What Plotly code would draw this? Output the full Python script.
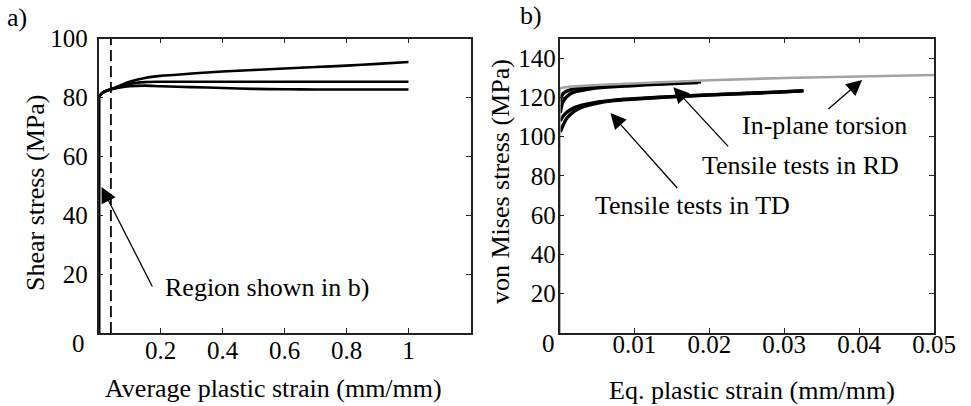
import plotly.graph_objects as go

# ---------------- Panel a data ----------------
a_elastic_x = [0, 0]
a_elastic_y = [0, 80]
a_strain = [0, 0.005, 0.01, 0.02, 0.04, 0.06, 0.1, 0.15, 0.2, 0.3, 0.4, 0.5, 0.6, 0.7, 0.8, 0.9, 1.0]
a_upper  = [80, 80.7, 81.3, 82.0, 82.8, 83.6, 85.3, 86.6, 87.3, 88.1, 88.8, 89.3, 89.8, 90.3, 90.8, 91.4, 92.0]
a_middle = [80, 80.7, 81.3, 82.0, 82.8, 83.4, 84.6, 85.2, 85.3, 85.3, 85.3, 85.3, 85.3, 85.3, 85.3, 85.3, 85.3]
a_lower  = [80, 80.7, 81.3, 82.0, 82.7, 83.2, 83.8, 84.0, 83.8, 83.5, 83.2, 82.9, 82.75, 82.7, 82.7, 82.7, 82.7]
a_region_x = [0.04, 0.04]
a_region_y = [0, 100]

# ---------------- Panel b data ----------------
tor_strain = [0, 0, 0.0005, 0.002, 0.005, 0.01, 0.02, 0.03, 0.04, 0.05]
tor_stress = [0, 124.5, 125.0, 125.6, 126.3, 127.2, 128.7, 129.9, 130.7, 131.4]

rd1_strain = [0.0001, 0.0005, 0.0015, 0.004, 0.008, 0.013, 0.0189]
rd1_stress = [118.0, 122.0, 124.0, 125.2, 126.1, 127.0, 128.0]
rd2_strain = [0.0001, 0.0005, 0.0015, 0.004, 0.008, 0.013, 0.0185]
rd2_stress = [112.0, 118.0, 122.0, 124.3, 125.6, 126.7, 127.6]

td1_strain = [0.0001, 0.0005, 0.001, 0.002, 0.003, 0.005, 0.007, 0.01, 0.015, 0.02, 0.025, 0.03, 0.0326]
td1_stress = [108.0, 110.5, 112.5, 114.8, 116.0, 117.6, 118.5, 119.3, 120.4, 121.3, 122.1, 122.9, 123.4]
td2_strain = [0.0001, 0.0005, 0.001, 0.002, 0.003, 0.005, 0.007, 0.01, 0.015, 0.02, 0.025, 0.03, 0.0324]
td2_stress = [102.5, 106.0, 109.5, 113.0, 115.0, 117.0, 118.2, 119.1, 120.3, 121.2, 122.0, 122.8, 123.3]

a_xticks = [0.2, 0.4, 0.6, 0.8, 1.0]
a_xticklabels = ["0.2", "0.4", "0.6", "0.8", "1"]
a_yticks = [20, 40, 60, 80, 100]
b_xticks = [0.01, 0.02, 0.03, 0.04, 0.05]
b_xticklabels = ["0.01", "0.02", "0.03", "0.04", "0.05"]
b_yticks = [20, 40, 60, 80, 100, 120, 140]

FONT = "'Liberation Serif', 'Times New Roman', Times, 'DejaVu Serif', serif"
W, H = 971, 406
BLACK = "#000000"
GRAY = "#a3a3a3"

fig = go.Figure()

# panel a
fig.add_trace(go.Scatter(x=a_elastic_x, y=a_elastic_y, mode="lines", xaxis="x", yaxis="y",
                         line=dict(color=BLACK, width=4), showlegend=False, hoverinfo="skip"))
for ys in (a_upper, a_middle, a_lower):
    fig.add_trace(go.Scatter(x=a_strain, y=ys, mode="lines", xaxis="x", yaxis="y",
                             line=dict(color=BLACK, width=2.6, shape="spline", smoothing=0.8),
                             showlegend=False, hoverinfo="skip"))
fig.add_trace(go.Scatter(x=a_region_x, y=a_region_y, mode="lines", xaxis="x", yaxis="y",
                         line=dict(color=BLACK, width=1.8, dash="11px,5px"), showlegend=False, hoverinfo="skip"))

# panel b
for xs, ys in ((rd1_strain, rd1_stress), (rd2_strain, rd2_stress),
               (td1_strain, td1_stress), (td2_strain, td2_stress)):
    fig.add_trace(go.Scatter(x=xs, y=ys, mode="lines", xaxis="x2", yaxis="y2",
                             line=dict(color=BLACK, width=3.4, shape="spline"), showlegend=False, hoverinfo="skip"))
fig.add_trace(go.Scatter(x=tor_strain, y=tor_stress, mode="lines", xaxis="x2", yaxis="y2",
                         line=dict(color=GRAY, width=2.6), showlegend=False, hoverinfo="skip"))

def px(x):
    return x / W

def py(y):
    return 1 - y / H

ydom = [py(333), py(38.5)]
axis_common = dict(showline=True, mirror="allticks", linecolor="#222222", linewidth=1.6,
                   ticks="inside", ticklen=5, tickwidth=1.2, tickcolor="#222222",
                   showgrid=False, zeroline=False, automargin=False,
                   tickfont=dict(family=FONT, size=25, color=BLACK))

fig.update_layout(
    template="none",
    width=W, height=H, autosize=False,
    margin=dict(l=0, r=0, t=0, b=0, pad=0, autoexpand=False),
    paper_bgcolor="white", plot_bgcolor="white",
    font=dict(family=FONT, size=26, color=BLACK),
    xaxis=dict(domain=[px(98.5), px(470.5)], range=[0, 1.2], anchor="y",
               tickvals=a_xticks, ticktext=a_xticklabels, ticklabelstandoff=-6, **axis_common),
    yaxis=dict(domain=ydom, range=[0, 100], anchor="x",
               tickvals=a_yticks, ticklabelstandoff=4, **axis_common),
    xaxis2=dict(domain=[px(559.5), px(934)], range=[0, 0.05], anchor="y2",
                tickvals=b_xticks, ticktext=b_xticklabels, ticklabelstandoff=-12, **axis_common),
    yaxis2=dict(domain=ydom, range=[0, 150], anchor="x2",
                tickvals=b_yticks, ticklabelstandoff=-3, **axis_common),
)

C = dict(xanchor="center", yanchor="middle", showarrow=False)
TF = dict(family=FONT, size=26, color=BLACK)
ann = []
# panel labels
ann.append(dict(text="a)", x=px(17), y=py(17), xref="paper", yref="paper", font=TF, **C))
ann.append(dict(text="b)", x=px(531), y=py(15), xref="paper", yref="paper", font=TF, **C))
# zero labels offset below the corner
ann.append(dict(text="0", x=px(78), y=py(343), xref="paper", yref="paper",
                font=dict(family=FONT, size=25, color=BLACK), **C))
ann.append(dict(text="0", x=px(548), y=py(343), xref="paper", yref="paper",
                font=dict(family=FONT, size=25, color=BLACK), **C))
# axis titles
ann.append(dict(text="Average plastic strain (mm/mm)", x=px(273), y=py(388), xref="paper", yref="paper",
                font=TF, **C))
ann.append(dict(text="Shear stress (MPa)", x=px(36), y=py(193), xref="paper", yref="paper",
                textangle=-90, font=TF, **C))
ann.append(dict(text="Eq. plastic strain (mm/mm)", x=px(752), y=py(390), xref="paper", yref="paper",
                font=TF, **C))
ann.append(dict(text="von Mises stress (MPa)", x=px(500), y=py(182), xref="paper", yref="paper",
                textangle=-90, font=TF, **C))

arrow_style = dict(showarrow=True, arrowhead=2, arrowsize=2.4, arrowwidth=1.3, arrowcolor=BLACK, standoff=0)
# panel a arrow + text
ann.append(dict(text="", x=0.0097, y=49.6, xref="x", yref="y", ax=0.176, ay=15.3, axref="x", ayref="y", **arrow_style))
ann.append(dict(text="Region shown in b)", x=0.543, y=15.6, xref="x", yref="y", font=TF, **C))
# panel b arrows + texts
ann.append(dict(text="", x=0.0404, y=128.9, xref="x2", yref="y2", ax=0.0357, ay=113.4, axref="x2", ayref="y2", **arrow_style))
ann.append(dict(text="", x=0.0152, y=125.2, xref="x2", yref="y2", ax=0.0227, ay=94.3, axref="x2", ayref="y2", **arrow_style))
ann.append(dict(text="", x=0.0068, y=112.0, xref="x2", yref="y2", ax=0.0159, ay=73.1, axref="x2", ayref="y2", **arrow_style))
ann.append(dict(text="In-plane torsion", x=0.03533, y=105.8, xref="x2", yref="y2", font=TF, **C))
ann.append(dict(text="Tensile tests in RD", x=0.0322, y=85.1, xref="x2", yref="y2", font=TF, **C))
ann.append(dict(text="Tensile tests in TD", x=0.01769, y=65.1, xref="x2", yref="y2", font=TF, **C))

fig.update_layout(annotations=ann)
fig.write_html("out.html", config={"displayModeBar": False},
               post_script="document.body.style.margin='0';document.body.style.padding='0';")
